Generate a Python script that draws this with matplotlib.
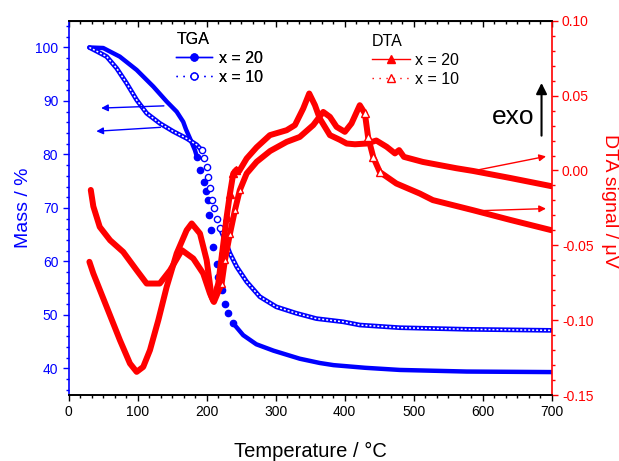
import matplotlib.pyplot as plt
from matplotlib.lines import Line2D
from matplotlib.ticker import MultipleLocator, AutoMinorLocator
import numpy as np

plt.rcParams['font.family'] = ['Liberation Sans', 'DejaVu Sans']

BLUE = '#0000ff'
RED = '#ff0000'

# TGA, x = 20 (filled circles)
temp_tga20 = [30, 50, 74, 98.5, 122.6, 142, 156.5, 166, 170, 176.8, 183, 186, 191, 195.5, 199,
              202, 204, 206, 209.6, 214.5, 217, 221.7, 226.5, 231.3, 238.6, 253, 272, 297, 335,
              364, 384, 430, 480, 577, 700]
mass_tga20 = [100.0, 99.9, 98.3, 95.8, 92.7, 89.9, 88.0, 86.1, 84.7, 82.7, 80.8, 79.5, 77.1, 74.8, 73.2,
              71.5, 68.7, 65.9, 62.7, 59.6, 57.1, 54.6, 52.1, 50.3, 48.4, 46.2, 44.5, 43.3, 41.8,
              41.0, 40.6, 40.1, 39.7, 39.4, 39.3]

# TGA, x = 10 (open circles)
temp_tga10 = [30, 40.6, 55, 69.6, 84, 98.5, 113, 132.3, 151.6, 171, 185.5, 192.8, 196, 200, 202.3,
              204.8, 208, 210.5, 214.5, 219.3, 226.5, 233.8, 243.5, 258, 277, 301, 330, 359, 398,
              422, 480, 577, 700]
mass_tga10 = [100.0, 99.3, 98.3, 96.1, 93.3, 90.2, 87.7, 85.8, 84.3, 83.0, 81.8, 80.8, 79.3, 77.7, 75.8,
              73.8, 71.5, 69.9, 68.0, 66.2, 64.0, 61.5, 59.0, 56.2, 53.4, 51.5, 50.3, 49.3, 48.7,
              48.1, 47.6, 47.3, 47.1]

# DTA, x = 20 (filled triangles)
temp_dta20 = [32, 35.7, 45, 60, 79, 98.5, 113, 132, 147, 164, 180.6, 195, 204.8, 209.6, 216.8,
              223, 229, 233.8, 238.6, 243, 247, 258, 272.5, 291.7, 316, 328, 340, 348.7, 357,
              364, 378.7, 393, 403, 415, 432, 446, 461, 473, 479, 486, 513.5, 562, 586, 640, 700]
dta20 = [-0.013, -0.024, -0.0377, -0.0466, -0.0544, -0.0666, -0.0755, -0.0755, -0.0666, -0.0532,
         -0.0588, -0.0688, -0.0822, -0.0872, -0.0755, -0.0532, -0.031, -0.0154, -0.002, 0.0005,
         -0.0005, 0.008, 0.0155, 0.0236, 0.0269, 0.0303, 0.0414, 0.0514, 0.0436, 0.0347, 0.0236,
         0.0205, 0.018, 0.0175, 0.018, 0.020, 0.0158, 0.0114, 0.0136, 0.0091, 0.0057, 0.0015,
         -0.0003, -0.005, -0.0105]

# DTA, x = 10 (open triangles)
temp_dta10 = [30, 35.7, 55, 74.3, 88.8, 98.5, 108, 117.8, 129.9, 142, 156.5, 171, 178.3, 190.3, 200,
              207.2, 210.6, 221.7, 226.5, 233.8, 241, 248, 258, 272.5, 292, 316, 335, 354.5, 369,
              378.7, 388.4, 400.4, 410, 422, 429.4, 434, 441.5, 451, 475, 509, 528, 586, 640, 700]
dta10 = [-0.061, -0.0688, -0.0911, -0.1134, -0.1289, -0.1345, -0.1312, -0.12, -0.1, -0.0778,
         -0.0554, -0.0399, -0.0354, -0.0421, -0.0599, -0.0844, -0.0878, -0.0755, -0.0599, -0.0421,
         -0.0265, -0.0132, -0.002, 0.0058, 0.013, 0.0191, 0.0224, 0.0303, 0.0391, 0.0358, 0.0291,
         0.0258, 0.0314, 0.0436, 0.0381, 0.0224, 0.009, -0.001, -0.0087, -0.0154, -0.0198, -0.0265,
         -0.033, -0.0399]

fig = plt.figure(figsize=(6.19, 4.61), dpi=100)
ax = fig.add_axes([0.111, 0.143, 0.780, 0.812])
ax2 = ax.twinx()


def split(t, y, lo, hi):
    # pieces before / inside / after a temperature window, sharing the end points
    t = np.asarray(t, float)
    y = np.asarray(y, float)
    i0 = int(np.argmax(t >= lo))
    i1 = int(np.nonzero(t <= hi)[0][-1])
    return (t[:i0 + 1], y[:i0 + 1]), (t[i0:i1 + 1], y[i0:i1 + 1]), (t[i1:], y[i1:])


# TGA x = 20: dense band, separate dots where the mass drops fast
b, s, a = split(temp_tga20, mass_tga20, 186, 239)
for seg in (b, a):
    ax.plot(*seg, color=BLUE, lw=3.2, solid_capstyle='round', solid_joinstyle='round')
ax.plot(*s, ls='none', marker='o', ms=4.5, mfc=BLUE, mec=BLUE)

# TGA x = 10: chain of open circles
b, s, a = split(temp_tga10, mass_tga10, 192, 226)
for seg in (b, a):
    ax.plot(*seg, color=BLUE, lw=3.4, solid_capstyle='round', solid_joinstyle='round')
    ax.plot(*seg, color='white', lw=1.1, ls=(0, (1.3, 1.3)))
ax.plot(*s, ls='none', marker='o', ms=4.5, mfc='white', mec=BLUE, mew=1)

# DTA x = 20
ax2.plot(temp_dta20, dta20, color=RED, lw=4.3, solid_joinstyle='round', solid_capstyle='round')
_, s, _ = split(temp_dta20, dta20, 210, 245)
ax2.plot(*s, ls='none', marker='^', ms=6, mfc=RED, mec=RED)

# DTA x = 10
ax2.plot(temp_dta10, dta10, color=RED, lw=4.3, solid_joinstyle='round', solid_capstyle='round')
_, s, _ = split(temp_dta10, dta10, 424, 452)
ax2.plot(*s, ls='none', marker='^', ms=6, mfc='white', mec=RED, mew=1)
_, s, _ = split(temp_dta10, dta10, 215, 250)
ax2.plot(*s, ls='none', marker='^', ms=5, mfc='white', mec=RED, mew=1)

ax.set_xlim(0, 700)
ax.set_ylim(35, 105)
ax2.set_ylim(-0.15, 0.10)

ax.xaxis.set_major_locator(MultipleLocator(100))
ax.xaxis.set_minor_locator(AutoMinorLocator(6))
ax.yaxis.set_major_locator(MultipleLocator(10))
ax.yaxis.set_minor_locator(AutoMinorLocator(5))
ax2.yaxis.set_major_locator(MultipleLocator(0.05))
ax2.yaxis.set_minor_locator(AutoMinorLocator(5))
ax2.yaxis.set_major_formatter(plt.FormatStrFormatter('%.2f'))

ax.tick_params(axis='x', which='major', direction='out', length=4, width=1, labelsize=10)
ax.tick_params(axis='x', which='minor', direction='out', length=2.5, width=1)
ax.tick_params(axis='y', which='major', direction='out', length=4, width=1, labelsize=10,
               color=BLUE, labelcolor=BLUE)
ax.tick_params(axis='y', which='minor', direction='out', length=2.5, width=1, color=BLUE)
ax2.tick_params(axis='y', which='major', direction='out', length=4, width=1, labelsize=10,
                color=RED, labelcolor=RED)
ax2.tick_params(axis='y', which='minor', direction='out', length=2.5, width=1, color=RED)

top = ax.secondary_xaxis('top')
top.xaxis.set_major_locator(MultipleLocator(100))
top.xaxis.set_minor_locator(AutoMinorLocator(6))
top.tick_params(which='major', direction='in', length=4, width=1, labeltop=False)
top.tick_params(which='minor', direction='in', length=2.5, width=1)

ax.spines['left'].set_color(BLUE)
ax.spines['right'].set_visible(False)
ax2.spines['left'].set_visible(False)
ax2.spines['right'].set_color(RED)
for sp in list(ax.spines.values()) + list(ax2.spines.values()):
    sp.set_linewidth(1.2)

ax.set_xlabel('Temperature / °C', fontsize=14.5, labelpad=16)
ax.set_ylabel('Mass / %', fontsize=14, color=BLUE, labelpad=2)
ax2.set_ylabel('DTA signal / μV', fontsize=14, color=RED, rotation=-90)
ax2.yaxis.set_label_coords(1.137, 0.52)

# arrows pointing to the axis each curve belongs to
ax.annotate('', xy=(43, 88.65), xytext=(142, 89.1),
            arrowprops=dict(arrowstyle='-|>', color=BLUE, lw=1, mutation_scale=10))
ax.annotate('', xy=(36, 84.3), xytext=(137, 85.1),
            arrowprops=dict(arrowstyle='-|>', color=BLUE, lw=1, mutation_scale=10))
ax2.annotate('', xy=(696, 0.0098), xytext=(586, -0.0003),
             arrowprops=dict(arrowstyle='-|>', color=RED, lw=1, mutation_scale=10))
ax2.annotate('', xy=(696, -0.0254), xytext=(586, -0.027),
             arrowprops=dict(arrowstyle='-|>', color=RED, lw=1, mutation_scale=10))
ax2.annotate('', xy=(685.5, 0.0603), xytext=(685.5, 0.0214),
             arrowprops=dict(arrowstyle='-|>', color='black', lw=1.5, mutation_scale=16))
ax2.text(645, 0.0356, 'exo', fontsize=19, ha='center', va='center')

tga_handles = [
    Line2D([], [], color=BLUE, lw=1, marker='o', ms=5, mfc=BLUE, mec=BLUE),
    Line2D([], [], color=BLUE, lw=1, ls=(0, (1, 4)), marker='o', ms=5, mfc='white', mec=BLUE),
]
dta_handles = [
    Line2D([], [], color=RED, lw=1, marker='^', ms=6, mfc=RED, mec=RED),
    Line2D([], [], color=RED, lw=1, ls=(0, (1, 4)), marker='^', ms=6, mfc='white', mec=RED),
]
leg1 = ax.legend(tga_handles, ['x = 20', 'x = 10'], title='TGA', alignment='left',
                 loc='upper left', bbox_to_anchor=(0.2, 1.0), frameon=False,
                 fontsize=11.5, title_fontsize=11.5, handlelength=2.2,
                 handletextpad=0.45, labelspacing=0.25, borderaxespad=0.3)
ax.add_artist(leg1)
leg2 = ax2.legend(dta_handles, ['x = 20', 'x = 10'], title='DTA', alignment='left',
                  loc='upper left', bbox_to_anchor=(0.605, 0.995), frameon=False,
                  fontsize=11.5, title_fontsize=11.5, handlelength=2.4,
                  handletextpad=0.3, labelspacing=0.25, borderaxespad=0.3)

fig.savefig('out.png', dpi=100)
